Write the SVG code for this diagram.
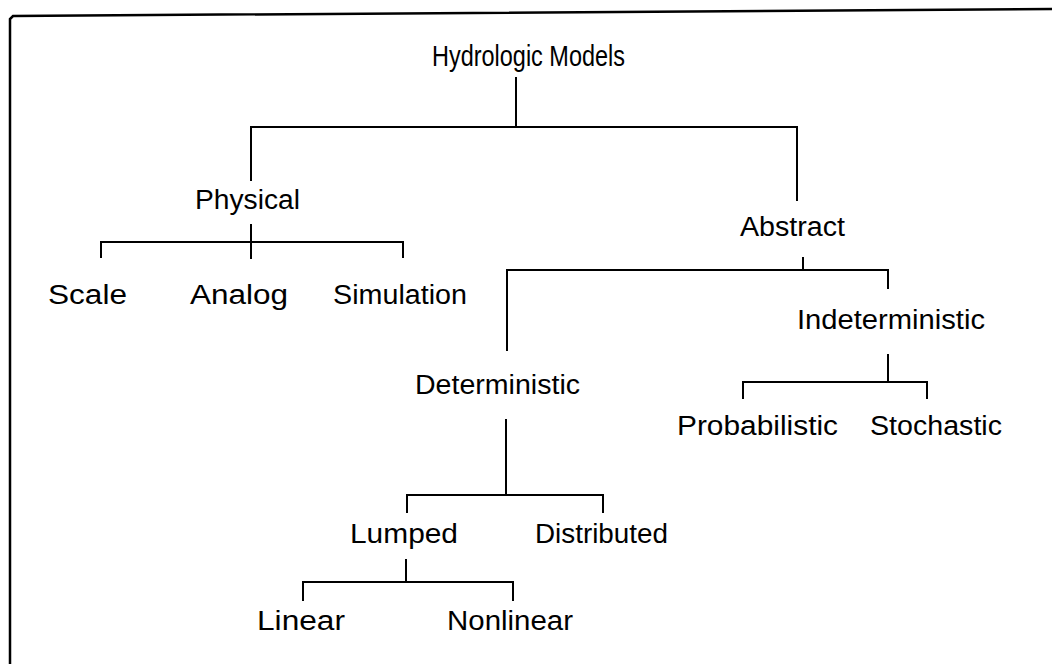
<svg xmlns="http://www.w3.org/2000/svg" width="1052" height="664" viewBox="0 0 1052 664">
  <style>
    .frame { fill: none; stroke: #000; stroke-width: 2.5; }
    .link { fill: none; stroke: #000; stroke-width: 2; stroke-linecap: square; }
    .label { font-family: "Liberation Sans", Arial, sans-serif; font-size: 27px; fill: #000; }
    .title { font-family: "Liberation Sans", Arial, sans-serif; font-size: 29px; fill: #000; }
  </style>
  <rect width="1052" height="664" fill="#fff"/>

  <!-- page frame (top and left edges only) -->
  <path class="frame" d="M10,664 L10,19 L13,16 L1052,9"/>

  <!-- tree connectors -->
  <g id="connectors">
    <!-- Hydrologic Models -> Physical / Abstract -->
    <path class="link" d="M516,78 V127 M251,180 V127 H797 V200"/>
    <!-- Physical -> Scale / Analog / Simulation -->
    <path class="link" d="M251,225 V258 M101,257 V242 H403 V257"/>
    <!-- Abstract -> Deterministic / Indeterministic -->
    <path class="link" d="M803,258 V270 M507,350 V270 H888 V288"/>
    <!-- Indeterministic -> Probabilistic / Stochastic -->
    <path class="link" d="M888,355 V382 M743,398 V382 H927 V398"/>
    <!-- Deterministic -> Lumped / Distributed -->
    <path class="link" d="M506,420 V495 M407,512 V495 H603 V512"/>
    <!-- Lumped -> Linear / Nonlinear -->
    <path class="link" d="M406,560 V582 M303,600 V582 H513 V600"/>
  </g>

  <g id="node-hydrologic-models"><text class="title" x="432" y="66" textLength="193" lengthAdjust="spacingAndGlyphs">Hydrologic Models</text></g>
  <g id="node-physical"><text class="label" x="195" y="209" textLength="105" lengthAdjust="spacingAndGlyphs">Physical</text></g>
  <g id="node-scale"><text class="label" x="48" y="304" textLength="79" lengthAdjust="spacingAndGlyphs">Scale</text></g>
  <g id="node-analog"><text class="label" x="190" y="304" textLength="98" lengthAdjust="spacingAndGlyphs">Analog</text></g>
  <g id="node-simulation"><text class="label" x="333" y="304" textLength="134" lengthAdjust="spacingAndGlyphs">Simulation</text></g>
  <g id="node-abstract"><text class="label" x="740" y="236" textLength="105" lengthAdjust="spacingAndGlyphs">Abstract</text></g>
  <g id="node-indeterministic"><text class="label" x="797" y="329" textLength="188" lengthAdjust="spacingAndGlyphs">Indeterministic</text></g>
  <g id="node-deterministic"><text class="label" x="415" y="394" textLength="165" lengthAdjust="spacingAndGlyphs">Deterministic</text></g>
  <g id="node-probabilistic"><text class="label" x="677" y="435" textLength="161" lengthAdjust="spacingAndGlyphs">Probabilistic</text></g>
  <g id="node-stochastic"><text class="label" x="870" y="435" textLength="132" lengthAdjust="spacingAndGlyphs">Stochastic</text></g>
  <g id="node-lumped"><text class="label" x="350" y="543" textLength="108" lengthAdjust="spacingAndGlyphs">Lumped</text></g>
  <g id="node-distributed"><text class="label" x="535" y="543" textLength="133" lengthAdjust="spacingAndGlyphs">Distributed</text></g>
  <g id="node-linear"><text class="label" x="257" y="630" textLength="88" lengthAdjust="spacingAndGlyphs">Linear</text></g>
  <g id="node-nonlinear"><text class="label" x="447" y="630" textLength="126" lengthAdjust="spacingAndGlyphs">Nonlinear</text></g>
</svg>
